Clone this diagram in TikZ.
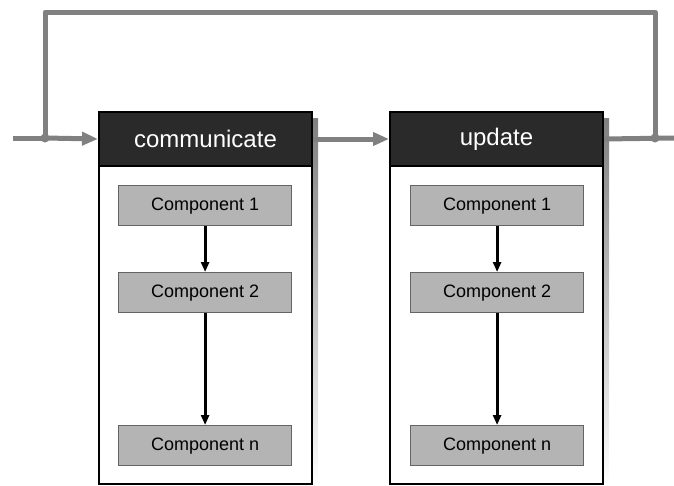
\documentclass[tikz,border=0pt]{standalone}
\usepackage{fontspec}
\setmainfont{Liberation Sans}
\usetikzlibrary{arrows.meta}
\definecolor{flow}{RGB}{128,128,128}
\definecolor{hdr}{RGB}{42,42,42}
\definecolor{comp}{RGB}{180,180,180}
\definecolor{compedge}{RGB}{100,100,100}
\definecolor{shade}{RGB}{178,178,178}
\begin{document}
\begin{tikzpicture}[x=1pt,y=-1pt,
  frame/.style={draw=black,line width=2pt,fill=white,minimum width=213pt,minimum height=372pt,anchor=north west,inner sep=0pt},
  header/.style={draw=black,line width=2pt,fill=hdr,text=white,minimum width=213pt,minimum height=54pt,anchor=north west,inner sep=0pt,font=\fontsize{24}{28}\selectfont},
  compbox/.style={draw=compedge,line width=1.2pt,fill=comp,minimum width=173pt,minimum height=40pt,anchor=north west,inner sep=0pt,font=\fontsize{18}{21}\selectfont},
  flowline/.style={draw=flow,line width=5pt,line join=round},
  flowarrow/.style={flowline,-{Triangle[length=16pt,width=13pt]}},
  steparrow/.style={draw=black,line width=3pt,-{Triangle[length=10pt,width=8pt]}},
  jdot/.style={circle,fill=flow,inner sep=0pt,minimum size=9pt}]
\useasboundingbox (0,0) rectangle (674,485);
% shadows
\fill[shade] (311,118) rectangle (318,485);
\fill[shade] (602,118) rectangle (609,485);
% frames
\node[frame] (cframe) at (98,111) {};
\node[frame] (uframe) at (389,111) {};
\node[header] (chead) at (98,111) {communicate};
\node[header] (uhead) at (389,111) {update};
% components
\node[compbox] (c1) at (118,185) {Component 1};
\node[compbox] (c2) at (118,272) {Component 2};
\node[compbox] (cn) at (118,425) {Component n};
\node[compbox] (u1) at (410,185) {Component 1};
\node[compbox] (u2) at (410,272) {Component 2};
\node[compbox] (un) at (410,425) {Component n};
\draw[steparrow] (c1.south) -- (c2.north);
\draw[steparrow] (c2.south) -- (cn.north);
\draw[steparrow] (u1.south) -- (u2.north);
\draw[steparrow] (u2.south) -- (un.north);
% flow
\coordinate (in) at (13,138);
\coordinate (out) at (674,138);
\coordinate (tl) at (45,12);
\coordinate (tr) at (655,12);
\node[jdot] (jl) at (45,138) {};
\node[jdot] (jr) at (655,138) {};
\draw[flowline] (in) -- (jl.center);
\draw[flowarrow] (jl.center) -- (chead.west);
\draw[flowarrow] (chead.east) -- (uhead.west);
\draw[flowline] (uhead.east) -- (out);
\draw[flowline] (jr.center) -- (tr) -- (tl) -- (jl.center);
\end{tikzpicture}
\end{document}
